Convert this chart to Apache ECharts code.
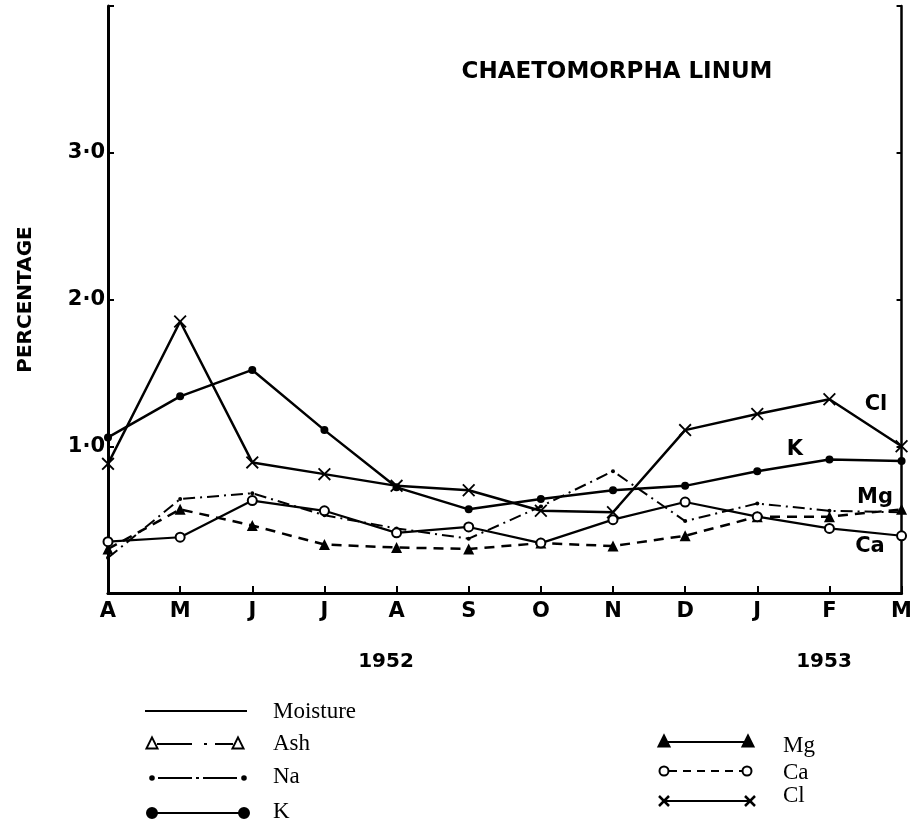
<!DOCTYPE html>
<html>
<head>
<meta charset="utf-8">
<script src="https://cdn.jsdelivr.net/npm/echarts@6/dist/echarts.min.js"></script>
<style>
  html, body { margin: 0; padding: 0; background: #fff; }
  #chart { width: 915px; height: 824px; }
</style>
</head>
<body>
<div id="chart"></div>
<script>
// months Apr 1952 .. Mar 1953
var months = ['A', 'M', 'J', 'J', 'A', 'S', 'O', 'N', 'D', 'J', 'F', 'M']
var yTicks = [1, 2, 3]
// percentages
var clData = [0.88, 1.85, 0.89, 0.81, 0.73, 0.70, 0.56, 0.55, 1.11, 1.22, 1.32, 1.00]
var kData = [1.06, 1.34, 1.52, 1.11, 0.72, 0.57, 0.64, 0.70, 0.73, 0.83, 0.91, 0.90]
var mgData = [0.30, 0.57, 0.46, 0.33, 0.31, 0.30, 0.34, 0.32, 0.39, 0.52, 0.52, 0.57]
var caData = [0.35, 0.38, 0.63, 0.56, 0.41, 0.45, 0.34, 0.50, 0.62, 0.52, 0.44, 0.39]
var naData = [0.24, 0.64, 0.68, 0.53, 0.44, 0.37, 0.59, 0.83, 0.49, 0.61, 0.56, 0.55]

var sans = 'DejaVu Sans'
var serif = 'Liberation Serif'
var crossPath = 'path://M1,0L5,4L9,0L10,1L6,5L10,9L9,10L5,6L1,10L0,9L4,5L0,1Z'

// legend helpers (not data marks)
function tri (cx, cy, s, filled) {
  return {
    type: 'polygon',
    shape: { points: [[cx, cy - s * 0.6], [cx - s / 2, cy + s * 0.4], [cx + s / 2, cy + s * 0.4]] },
    style: { fill: filled ? '#000' : '#fff', stroke: '#000', lineWidth: 2 }
  }
}
function seg (x1, x2, y, dash, w) {
  return {
    type: 'line',
    shape: { x1: x1, y1: y, x2: x2, y2: y },
    style: { stroke: '#000', lineWidth: w || 2, lineDash: dash || null }
  }
}
function dot (cx, cy, r, filled) {
  return {
    type: 'circle',
    shape: { cx: cx, cy: cy, r: r },
    style: { fill: filled ? '#000' : '#fff', stroke: '#000', lineWidth: 2 }
  }
}
function cross (cx, cy, s) {
  return [
    { type: 'line', shape: { x1: cx - s, y1: cy - s, x2: cx + s, y2: cy + s }, style: { stroke: '#000', lineWidth: 2.5 } },
    { type: 'line', shape: { x1: cx - s, y1: cy + s, x2: cx + s, y2: cy - s }, style: { stroke: '#000', lineWidth: 2.5 } }
  ]
}
function txt (x, y, s, font, size, bold, align) {
  return {
    type: 'text',
    x: x,
    y: y,
    style: {
      text: s,
      fill: '#000',
      font: (bold ? 'bold ' : '') + size + 'px "' + font + '"',
      textAlign: align || 'left',
      textVerticalAlign: 'middle'
    }
  }
}

var legendEls = [
  seg(145, 247, 711),
  txt(273, 712, 'Moisture', serif, 23),
  seg(157, 233, 744, [35, 12, 3, 8]),
  tri(152, 744, 11, false),
  tri(238, 744, 11, false),
  txt(273, 744, 'Ash', serif, 23),
  seg(158, 240, 778, [34, 4, 3, 4]),
  dot(152, 778, 1.8, true),
  dot(244, 778, 1.8, true),
  txt(273, 777, 'Na', serif, 23),
  seg(152, 244, 813),
  dot(152, 813, 5, true),
  dot(244, 813, 5, true),
  txt(273, 812, 'K', serif, 23),

  seg(664, 748, 742),
  tri(664, 742, 11, true),
  tri(748, 742, 11, true),
  txt(783, 746, 'Mg', serif, 23),
  seg(669, 742, 771, [8, 6]),
  dot(664, 771, 4.5, false),
  dot(747, 771, 4.5, false),
  txt(783, 773, 'Ca', serif, 23),
  seg(664, 750, 801)
].concat(cross(664, 801, 5), cross(750, 801, 5), [
  txt(783, 796, 'Cl', serif, 23),

  // direct labels and years
  txt(617, 72, 'CHAETOMORPHA LINUM', sans, 23, true, 'center'),
  txt(876, 405, 'Cl', sans, 21, true, 'center'),
  txt(795, 450, 'K', sans, 21, true, 'center'),
  txt(875, 498, 'Mg', sans, 21, true, 'center'),
  txt(870, 547, 'Ca', sans, 21, true, 'center'),
  txt(386, 662, '1952', sans, 20, true, 'center'),
  txt(824, 662, '1953', sans, 20, true, 'center')
])

var chart = echarts.init(document.getElementById('chart'))
chart.setOption({
  backgroundColor: '#fff',
  animation: false,
  grid: { left: 108, right: 10, top: 6, bottom: 231 },
  xAxis: [
    {
      type: 'category',
      data: months,
      boundaryGap: false,
      axisLine: { lineStyle: { color: '#000', width: 3 } },
      axisTick: { inside: true, length: 7, lineStyle: { color: '#000', width: 2 } },
      axisLabel: { interval: 0, color: '#000', fontFamily: sans, fontWeight: 'bold', fontSize: 21, margin: 8 },
      splitLine: { show: false }
    },
    {
      type: 'category',
      data: months,
      position: 'top',
      boundaryGap: false,
      axisLine: { lineStyle: { color: '#000', width: 2.5 } },
      axisTick: { show: false },
      axisLabel: { show: false },
      splitLine: { show: false }
    }
  ],
  yAxis: [
    {
      type: 'value',
      min: 0,
      max: 4,
      interval: 1,
      name: 'PERCENTAGE',
      nameLocation: 'middle',
      nameRotate: 90,
      nameGap: 72,
      nameTextStyle: { color: '#000', fontFamily: sans, fontWeight: 'bold', fontSize: 20 },
      axisLine: { show: true, lineStyle: { color: '#000', width: 3 } },
      axisTick: { show: true, inside: true, length: 6, lineStyle: { color: '#000', width: 2 } },
      axisLabel: {
        color: '#000', fontFamily: sans, fontWeight: 'bold', fontSize: 21, margin: 3,
        formatter: function (v) {
          return yTicks.indexOf(v) >= 0 ? v.toFixed(1).replace('.', '\u00b7') : ''
        }
      },
      splitLine: { show: false }
    },
    {
      type: 'value',
      min: 0,
      max: 4,
      interval: 1,
      position: 'right',
      axisLine: { show: true, lineStyle: { color: '#000', width: 2.5 } },
      axisTick: { show: true, inside: true, length: 5, lineStyle: { color: '#000', width: 2 } },
      axisLabel: { show: false },
      splitLine: { show: false }
    }
  ],
  series: [
    {
      name: 'Na', type: 'line', data: naData,
      symbol: 'circle', symbolSize: 4,
      itemStyle: { color: '#000' },
      lineStyle: { color: '#000', width: 2, type: [12, 5, 2, 5] }
    },
    {
      name: 'Mg', type: 'line', data: mgData,
      symbol: 'triangle', symbolSize: 11,
      itemStyle: { color: '#000' },
      lineStyle: { color: '#000', width: 2.5, type: [10, 7] }
    },
    {
      name: 'Ca', type: 'line', data: caData,
      symbol: 'emptyCircle', symbolSize: 9,
      itemStyle: { color: '#000', borderWidth: 2 },
      lineStyle: { color: '#000', width: 2.2 }
    },
    {
      name: 'K', type: 'line', data: kData,
      symbol: 'circle', symbolSize: 8,
      itemStyle: { color: '#000' },
      lineStyle: { color: '#000', width: 2.5 }
    },
    {
      name: 'Cl', type: 'line', data: clData,
      symbol: crossPath, symbolSize: 13,
      itemStyle: { color: '#000' },
      lineStyle: { color: '#000', width: 2.5 }
    }
  ],
  graphic: legendEls
})
</script>
</body>
</html>
